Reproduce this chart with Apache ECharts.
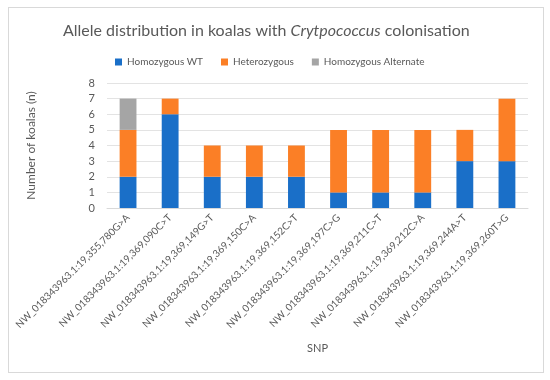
<!DOCTYPE html>
<html><head><meta charset="utf-8">
<script src="https://cdn.jsdelivr.net/npm/echarts@6/dist/echarts.min.js"></script>
<style>html,body{margin:0;padding:0;background:#fff}#c{width:550px;height:380px}
#frame{position:absolute;left:8px;top:7px;width:534px;height:364px;border:1px solid #d9d9d9;pointer-events:none}</style>
</head><body><div id="c"></div><div id="frame"></div>
<script>
const categories = ["NW_018343963.1:19,355,780G>A","NW_018343963.1:19,369,090C>T","NW_018343963.1:19,369,149G>T","NW_018343963.1:19,369,150C>A","NW_018343963.1:19,369,152C>T","NW_018343963.1:19,369,197C>G","NW_018343963.1:19,369,211C>T","NW_018343963.1:19,369,212C>A","NW_018343963.1:19,369,244A>T","NW_018343963.1:19,369,260T>G"];
const homWT = [2,6,2,2,2,1,1,1,3,3];
const het = [3,1,2,2,2,4,4,4,2,4];
const homAlt = [2,0,0,0,0,0,0,0,0,0];
const seriesNames = ["Homozygous WT","Heterozygous","Homozygous Alternate"];
const colors = ["#1a6fc8","#fb7f26","#a5a5a5"];
const font = "Lato, sans-serif";
const chart = echarts.init(document.getElementById('c'));
const mk = (name, data, color) => ({name, type:'bar', stack:'s', data, barWidth:'40%', itemStyle:{color}});
chart.setOption({
  animation:false,
  textStyle:{fontFamily:font},
  title:{text:'{n|Allele distribution in koalas with }{i|Crytpococcus}{n| colonisation}', left:58, top:18,
    textStyle:{fontWeight:'normal', rich:{n:{fontSize:16,color:'#595959',fontFamily:font,fontWeight:'normal'},i:{fontSize:16,color:'#595959',fontStyle:'italic',fontWeight:'normal',fontFamily:font}}}},
  legend:{top:52, left:110, itemWidth:7, itemHeight:7, itemGap:18, icon:'rect',
    textStyle:{fontSize:10,color:'#595959',fontFamily:font}, data:seriesNames},
  grid:{left:107, right:22, top:83, bottom:172},
  xAxis:{type:'category', data:categories, name:'SNP', nameLocation:'middle', nameGap:135,
    nameTextStyle:{fontSize:11,color:'#595959'},
    axisLine:{lineStyle:{color:'#d9d9d9'}}, axisTick:{show:false},
    axisLabel:{rotate:45, fontSize:10, color:'#595959', interval:0, margin:8}},
  yAxis:{type:'value', min:0, max:8, interval:1, name:'Number of koalas (n)', nameLocation:'middle', nameGap:70,
    nameTextStyle:{fontSize:12,color:'#595959'},
    axisLabel:{fontSize:11,color:'#595959',margin:12}, axisLine:{show:false}, axisTick:{show:false},
    splitLine:{lineStyle:{color:'#e3e3e3'}}},
  series:[mk(seriesNames[0],homWT,colors[0]), mk(seriesNames[1],het,colors[1]), mk(seriesNames[2],homAlt,colors[2])]
});
</script></body></html>
